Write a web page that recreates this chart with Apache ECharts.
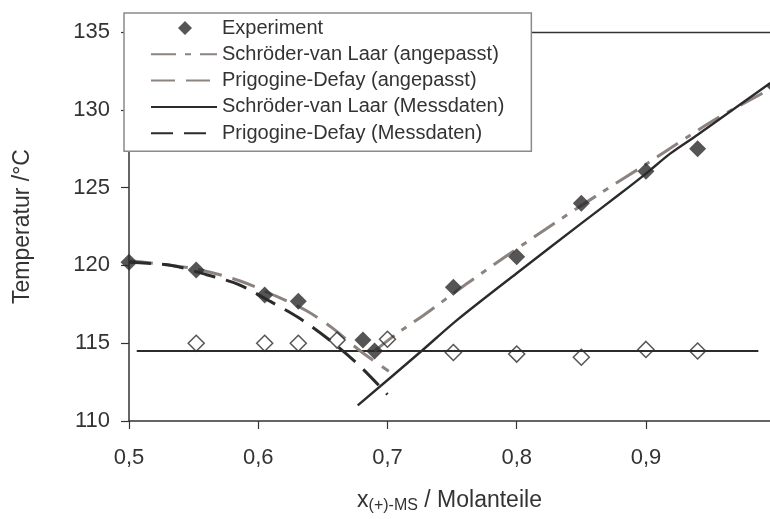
<!DOCTYPE html>
<html>
<head>
<meta charset="utf-8">
<script src="https://cdn.jsdelivr.net/npm/echarts@6/dist/echarts.min.js"></script>
<style>
  html, body { margin: 0; padding: 0; background: #fff; }
  #chart { width: 770px; height: 519px; }
</style>
</head>
<body>
<div id="chart"></div>
<script>
// Mole fraction of (+)-MS (x) and melting temperature in °C (T)

// Measured liquidus points (filled diamonds)
const expX = [0.500, 0.552, 0.605, 0.631, 0.681, 0.690, 0.751, 0.800, 0.850, 0.900, 0.940, 1.000];
const expT = [120.2, 119.7, 118.1, 117.7, 115.2, 114.5, 118.6, 120.55, 124.0, 126.05, 127.5, 131.5];

// Measured eutectic points (open diamonds)
const eutX = [0.552, 0.605, 0.631, 0.661, 0.700, 0.751, 0.800, 0.850, 0.900, 0.940];
const eutT = [115.0, 115.0, 115.0, 115.2, 115.25, 114.4, 114.3, 114.1, 114.6, 114.5];

// Eutectic temperature line
const eutLineX = [0.506, 0.987];
const eutLineT = [114.5, 114.5];

// Schröder-van Laar, fitted parameters
const svlFitX = [0.690, 0.707, 0.728, 0.761, 0.792, 0.829, 0.864, 0.900, 0.920, 0.956, 0.991, 1.000];
const svlFitT = [114.5, 115.6, 116.8, 118.8, 120.6, 122.7, 124.6, 126.5, 127.6, 129.5, 131.1, 131.5];

// Prigogine-Defay, fitted parameters
const pdFitX = [0.500, 0.550, 0.586, 0.613, 0.637, 0.657, 0.679, 0.701];
const pdFitT = [120.3, 119.8, 119.0, 118.05, 117.1, 116.0, 114.5, 113.2];

// Schröder-van Laar, measured parameters
const svlMeasX = [0.677, 0.725, 0.754, 0.800, 0.850, 0.880, 0.900, 0.919, 0.940, 0.996, 1.000];
const svlMeasT = [111.0, 114.4, 116.5, 119.5, 122.7, 124.6, 125.9, 127.2, 128.4, 131.7, 131.9];

// Prigogine-Defay, measured parameters
const pdMeasX = [0.500, 0.533, 0.560, 0.584, 0.609, 0.632, 0.656, 0.679, 0.700];
const pdMeasT = [120.2, 120.0, 119.4, 118.8, 117.7, 116.6, 115.15, 113.5, 111.7];

// Axis ticks
const xTicks = [0.5, 0.6, 0.7, 0.8, 0.9];
const yTicks = [110, 115, 120, 125, 130, 135];

const names = [
  'Experiment',
  'Schröder-van Laar (angepasst)',
  'Prigogine-Defay (angepasst)',
  'Schröder-van Laar (Messdaten)',
  'Prigogine-Defay (Messdaten)'
];

const pairs = (xs, ys) => xs.map((x, i) => [x, ys[i]]);

const FONT = '"Liberation Sans", Arial, sans-serif';
const DARK = '#2b2b2b';
const GREY = '#8c837f';
const TEXT = '#333';

// Legend marker for the measured points: a diamond in the middle of the icon box
// (corner points pin the path's bounds to the full 66 x 14 box).
const DIAMOND_ICON = 'path://M0,0L0.01,0ZM66,14L65.99,14ZM27,7L34,0L41,7L34,14Z';
// Line entries show only their stroke in the legend.
const NO_SYMBOL = { color: 'rgba(0,0,0,0)', borderColor: 'rgba(0,0,0,0)', borderWidth: 0 };

const chart = echarts.init(document.getElementById('chart'), null, { renderer: 'canvas' });

chart.setOption({
  animation: false,
  backgroundColor: '#fff',
  textStyle: { fontFamily: FONT },
  grid: { left: 129, right: 0, top: 32, bottom: 96, containLabel: false },
  xAxis: [{
    type: 'value',
    min: 0.5,
    max: 0.996,
    interval: 0.1,
    position: 'bottom',
    name: '{m|x}{s|(+)-MS}{m| / Molanteile}',
    nameLocation: 'middle',
    nameGap: 67,
    nameTextStyle: {
      rich: {
        m: { fontSize: 23, fontFamily: FONT, color: TEXT },
        s: { fontSize: 16, fontFamily: FONT, color: TEXT, padding: [10, 0, 0, 0] }
      }
    },
    axisLine: { show: true, onZero: false, lineStyle: { color: '#333', width: 1.5 } },
    axisTick: { show: true, length: 8, customValues: xTicks, lineStyle: { color: '#333', width: 1.2 } },
    axisLabel: {
      customValues: xTicks,
      margin: 26,
      fontSize: 22,
      fontFamily: FONT,
      color: TEXT,
      formatter: v => v.toFixed(1).replace('.', ',')
    },
    splitLine: { show: false }
  }, {
    // plot frame along the top edge
    type: 'value',
    min: 0.5,
    max: 0.996,
    position: 'top',
    axisLine: { show: true, onZero: false, lineStyle: { color: '#333', width: 1.3 } },
    axisTick: { show: false },
    axisLabel: { show: false },
    splitLine: { show: false }
  }],
  yAxis: {
    type: 'value',
    min: 110,
    max: 135,
    interval: 5,
    name: 'Temperatur /°C',
    nameLocation: 'middle',
    nameGap: 95,
    nameTextStyle: { fontSize: 23, fontFamily: FONT, color: TEXT },
    axisLine: { show: true, onZero: false, lineStyle: { color: '#333', width: 1.5 } },
    axisTick: { show: true, length: 8, lineStyle: { color: '#333', width: 1.2 } },
    axisLabel: {
      margin: 19,
      fontSize: 22,
      fontFamily: FONT,
      color: TEXT,
      formatter: v => (yTicks.includes(v) ? String(v) : '')
    },
    splitLine: { show: false }
  },
  legend: {
    orient: 'vertical',
    left: 124,
    top: 13,
    data: [
      { name: names[0], icon: DIAMOND_ICON, itemStyle: { color: '#2a2a2a' } },
      { name: names[1], itemStyle: NO_SYMBOL },
      { name: names[2], itemStyle: NO_SYMBOL },
      { name: names[3], itemStyle: NO_SYMBOL },
      { name: names[4], itemStyle: NO_SYMBOL }
    ],
    itemWidth: 66,
    itemHeight: 14,
    itemGap: 6.3,
    padding: [5, 27, 8, 26],
    backgroundColor: '#fff',
    borderColor: '#8a8a8a',
    borderWidth: 1.5,
    borderRadius: 0,
    selectedMode: false,
    textStyle: { fontSize: 20, lineHeight: 20, fontFamily: FONT, color: TEXT },
    z: 10
  },
  series: [
    {
      name: 'Eutektikum-Linie',
      type: 'line',
      data: pairs(eutLineX, eutLineT),
      symbol: 'none',
      lineStyle: { color: DARK, width: 2 },
      z: 2
    },
    {
      name: names[2],
      type: 'line',
      data: pairs(pdFitX, pdFitT),
      symbol: 'none',
      smooth: 0.3,
      itemStyle: { color: GREY },
      lineStyle: { color: GREY, width: 3, type: [24, 11] },
      z: 2
    },
    {
      name: names[1],
      type: 'line',
      data: pairs(svlFitX, svlFitT),
      symbol: 'none',
      smooth: 0.3,
      itemStyle: { color: GREY },
      lineStyle: { color: GREY, width: 3, type: [25, 9, 6, 9] },
      z: 2
    },
    {
      name: names[4],
      type: 'line',
      data: pairs(pdMeasX, pdMeasT),
      symbol: 'none',
      smooth: 0.3,
      itemStyle: { color: DARK },
      lineStyle: { color: DARK, width: 3, type: [22, 11] },
      z: 2
    },
    {
      name: names[3],
      type: 'line',
      data: pairs(svlMeasX, svlMeasT),
      symbol: 'none',
      smooth: 0.3,
      itemStyle: { color: DARK },
      lineStyle: { color: DARK, width: 2.4 },
      z: 2
    },
    {
      name: 'Eutektikum',
      type: 'scatter',
      data: pairs(eutX, eutT),
      symbol: 'diamond',
      symbolSize: 16,
      itemStyle: { color: 'rgba(255,255,255,0)', borderColor: DARK, borderWidth: 1.5 },
      z: 3
    },
    {
      name: names[0],
      type: 'scatter',
      data: pairs(expX, expT),
      symbol: 'diamond',
      symbolSize: 17,
      clip: false,
      itemStyle: { color: '#2a2a2a' },
      z: 4
    }
  ]
});
</script>
</body>
</html>
